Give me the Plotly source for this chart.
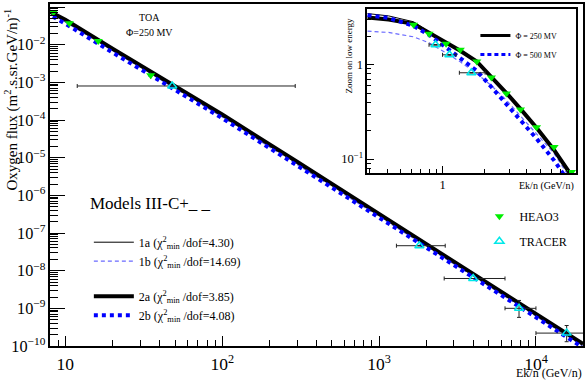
import numpy as np
import plotly.graph_objects as go

# ---- model curves: Oxygen flux vs Ek/n (GeV/n) ----
ek = [0.29, 0.41, 0.62, 0.8, 1.06, 1.34, 1.76, 2.24, 2.87, 3.62, 4.72, 6.3, 8.4,
      10, 20, 50, 100, 300, 1000, 3000, 10000, 20000]
flux_1a = [3.47, 3.28, 2.84, 2.22, 1.70, 1.41, 1.09, 0.76, 0.505, 0.345, 0.218, 0.127, 0.069,
           0.047, 7.9e-3, 8.0e-4, 1.42e-4, 7.9e-6, 3.3e-7, 1.78e-8, 7.3e-10, 1.15e-10]
flux_1b = [2.26, 2.19, 1.97, 1.70, 1.33, 1.07, 0.80, 0.60, 0.42, 0.29, 0.185, 0.115, 0.062,
           0.040, 6.8e-3, 6.8e-4, 1.2e-4, 6.6e-6, 2.8e-7, 1.5e-8, 6.2e-10, 9.7e-11]
flux_2a = [3.15, 3.00, 2.70, 2.18, 1.68, 1.40, 1.08, 0.75, 0.50, 0.34, 0.215, 0.125, 0.068,
           0.046, 7.8e-3, 7.9e-4, 1.4e-4, 7.8e-6, 3.26e-7, 1.76e-8, 7.2e-10, 1.13e-10]
flux_2b = [3.34, 3.12, 2.57, 2.07, 1.52, 1.16, 0.86, 0.58, 0.385, 0.26, 0.165, 0.097, 0.054,
           0.036, 6.2e-3, 6.3e-4, 1.12e-4, 6.2e-6, 2.6e-7, 1.4e-8, 5.8e-10, 9.0e-11]

# ---- data ----
heao3_ek = [0.62, 0.80, 1.06, 1.34, 1.76, 2.24, 2.87, 3.62, 4.72, 6.3, 8.4, 10.6, 16.2, 35]
heao3_flux = [2.64, 2.12, 1.66, 1.44, 1.08, 0.73, 0.495, 0.336, 0.217, 0.134, 0.073,
              0.037, 0.0126, 1.55e-3]
heao3_err = [0, 0, 0, 0, 0, 0, 0, 0, 0, 0, 0, 0, 0, 3e-4]

tracer_ek = [0.89, 1.12, 1.61, 48, 1807, 3980, 7800, 15700]
tracer_flux = [1.62, 1.27, 0.82, 8.0e-4, 4.6e-8, 6.2e-9, 1.0e-9, 2.2e-10]
tracer_ek_lo = [0.80, 1.00, 1.32, 11.9, 1290, 2600, 6350, 10000]
tracer_ek_hi = [0.97, 1.25, 2.02, 292, 2640, 6350, 10000, 25000]
tracer_flux_lo = [1.62, 1.27, 0.82, 8.0e-4, 4.6e-8, 6.2e-9, 5.75e-10, 1.3e-10]
tracer_flux_hi = [1.62, 1.27, 0.82, 8.0e-4, 4.6e-8, 6.2e-9, 1.62e-9, 3.5e-10]

FONT = "Liberation Serif, Times New Roman, serif"
W, H = 587, 380
L, R, T, B = 50, 2, 2, 34


def px_x(p):
    return (p - L) / (W - L - R)


def px_y(p):
    return (H - B - p) / (H - T - B)


tk = np.array(tracer_ek)
tf = np.array(tracer_flux)
err_x = dict(type="data", symmetric=False, array=np.array(tracer_ek_hi) - tk,
             arrayminus=tk - np.array(tracer_ek_lo), color="#222", thickness=1, width=2)
err_y = dict(type="data", symmetric=False, array=np.array(tracer_flux_hi) - tf,
             arrayminus=tf - np.array(tracer_flux_lo), color="#222", thickness=1, width=2)

models = [
    ("1a", flux_1a, dict(color="black", width=1), "4.30", "g1"),
    ("1b", flux_1b, dict(color="#6a6aff", width=1.2, dash="4px,3px"), "14.69", "g1"),
    ("2a", flux_2a, dict(color="black", width=4), "3.85", "g2"),
    ("2b", flux_2b, dict(color="#0000ff", width=4, dash="4px,4px"), "4.08", "g2"),
]

fig = go.Figure()

for xa, ya, main in [("x", "y", True), ("x2", "y2", False)]:
    for name, fl, line, chi, grp in models:
        fig.add_trace(go.Scatter(
            x=ek, y=fl, mode="lines", line=line, xaxis=xa, yaxis=ya,
            name=f"{name} (χ<sup>2</sup><sub>min</sub> /dof={chi})",
            legendgroup=grp, showlegend=main, legend="legend"))
    fig.add_trace(go.Scatter(
        x=heao3_ek, y=heao3_flux, mode="markers", name="HEAO3", xaxis=xa, yaxis=ya,
        marker=dict(symbol="triangle-down", color="#00ee00", size=8, line=dict(width=0)),
        error_y=dict(type="data", array=heao3_err, color="#222", thickness=1, width=0),
        legendgroup="h", showlegend=main, legend="legend2"))
    fig.add_trace(go.Scatter(
        x=tracer_ek, y=tracer_flux, mode="markers", name="TRACER", xaxis=xa, yaxis=ya,
        marker=dict(symbol="triangle-up-open", color="#00e8e8", size=8, line=dict(width=1.5)),
        error_x=err_x, error_y=err_y,
        legendgroup="t", showlegend=main, legend="legend2"))

# inset legend entries (solar modulation)
fig.add_trace(go.Scatter(x=[None], y=[None], mode="lines", name="Φ = 250 MV",
                         line=dict(color="black", width=3), xaxis="x2", yaxis="y2",
                         legend="legend3"))
fig.add_trace(go.Scatter(x=[None], y=[None], mode="lines", name="Φ = 500 MV",
                         line=dict(color="#0000ff", width=3, dash="4px,3px"),
                         xaxis="x2", yaxis="y2", legend="legend3"))

axis_common = dict(type="log", showline=True, linecolor="black", mirror=True,
                   showgrid=False, zeroline=False, ticks="inside", tickcolor="black",
                   dtick=1, exponentformat="power")

fig.update_layout(
    width=W, height=H,
    margin=dict(l=L, r=R, t=T, b=B),
    paper_bgcolor="white", plot_bgcolor="white",
    font=dict(family=FONT, size=13, color="black"),
    xaxis=dict(axis_common, range=[0.902, 4.30], domain=[0, 1], linewidth=2,
               ticklen=10, tickfont=dict(size=14), ticklabelstandoff=2,
               minor=dict(ticks="inside", ticklen=6, dtick="D1", tickcolor="black")),
    yaxis=dict(axis_common, range=[-10, -0.92], domain=[0, 1], linewidth=2,
               ticklen=15, tickfont=dict(size=13),
               minor=dict(ticks="inside", ticklen=8, dtick="D1", tickcolor="black")),
    xaxis2=dict(axis_common, range=[-0.543, 0.957], domain=[px_x(368), px_x(578)],
                anchor="y2", linewidth=1.5, ticklen=7, tickfont=dict(size=10),
                minor=dict(ticks="inside", ticklen=4, dtick="D1", tickcolor="black")),
    yaxis2=dict(axis_common, range=[-1.147, 0.589], domain=[px_y(172), px_y(7)],
                anchor="x2", linewidth=1.5, ticklen=7, tickfont=dict(size=10),
                minor=dict(ticks="inside", ticklen=4, dtick="D1", tickcolor="black")),
    legend=dict(x=px_x(89), y=px_y(227), xanchor="left", yanchor="top",
                bgcolor="rgba(0,0,0,0)", font=dict(size=12), traceorder="grouped",
                tracegroupgap=16, itemwidth=40),
    legend2=dict(x=px_x(481), y=px_y(201), xanchor="left", yanchor="top",
                 bgcolor="rgba(0,0,0,0)", font=dict(size=12), tracegroupgap=6),
    legend3=dict(x=px_x(477), y=px_y(19), xanchor="left", yanchor="top",
                 bgcolor="rgba(0,0,0,0)", font=dict(size=8)),
    showlegend=True,
)

annots = [
    dict(text="TOA", x=px_x(150), y=px_y(16), font=dict(size=10)),
    dict(text="Φ=250 MV", x=px_x(150), y=px_y(31), font=dict(size=10)),
    dict(text="Models III-C+_ _", x=px_x(88), y=px_y(203), xanchor="left",
         font=dict(size=17)),
    dict(text="Oxygen flux (m<sup>2</sup>.s.sr.GeV/n)<sup>-1</sup>", x=px_x(11),
         y=px_y(98), textangle=-90, font=dict(size=15)),
    dict(text="Ek/n (GeV/n)", x=px_x(586), y=px_y(373.5), xanchor="right",
         font=dict(size=12)),
    dict(text="Zoom on low energy", x=px_x(350), y=px_y(54), textangle=-90,
         font=dict(size=9)),
    dict(text="Ek/n (GeV/n)", x=px_x(578), y=px_y(185), xanchor="right",
         font=dict(size=10)),
]
for a in annots:
    a.setdefault("xanchor", "center")
    a.setdefault("yanchor", "middle")
    fig.add_annotation(xref="paper", yref="paper", showarrow=False, **a)

fig.write_html("out.html", config={"displayModeBar": False},
               post_script="document.body.style.margin='0';")
